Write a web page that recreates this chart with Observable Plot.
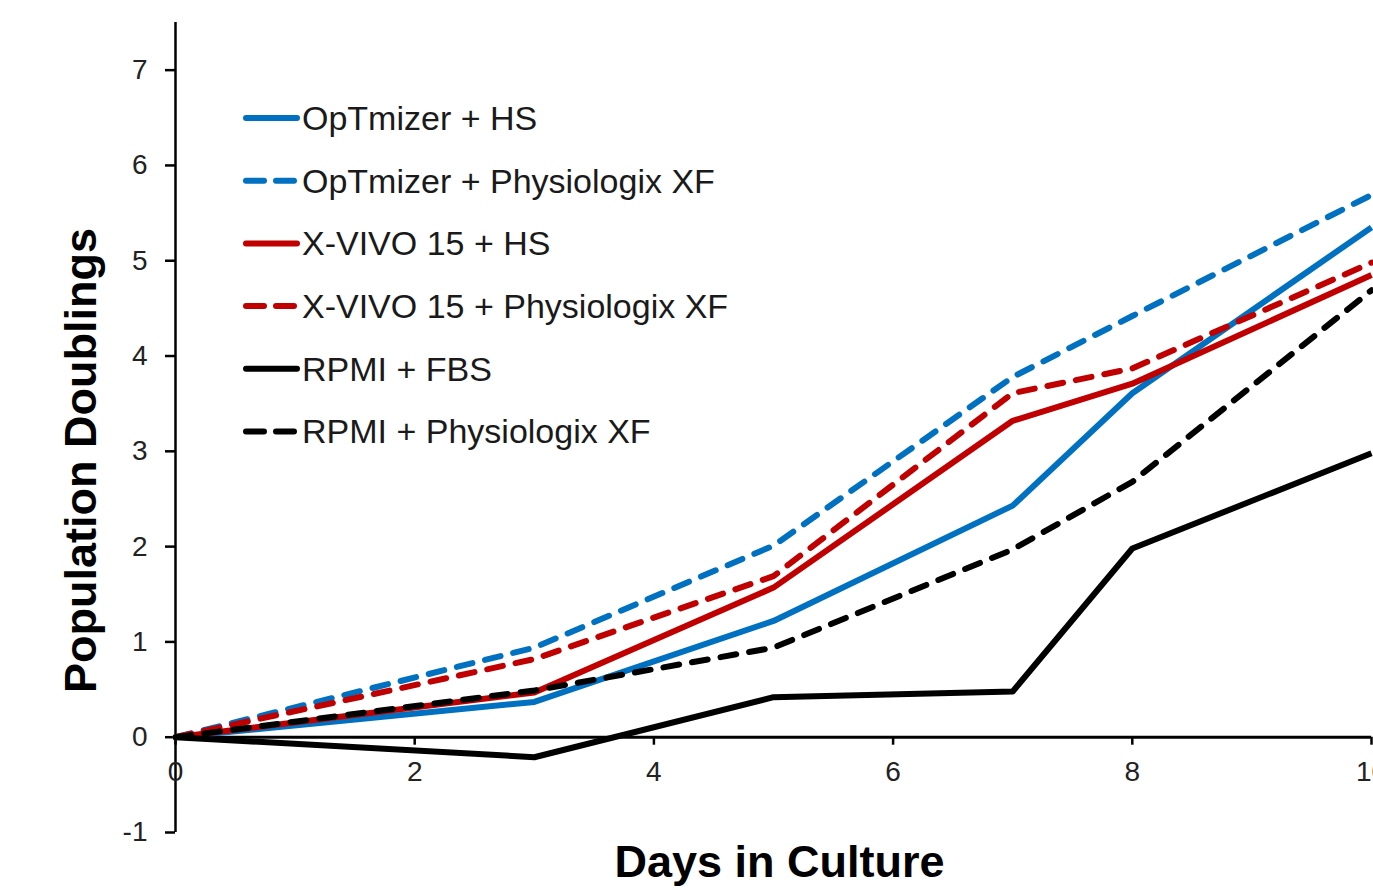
<!DOCTYPE html>
<html>
<head>
<meta charset="utf-8">
<script src="https://cdn.jsdelivr.net/npm/d3@7"></script>
<script src="https://cdn.jsdelivr.net/npm/@observablehq/plot@0.6"></script>
<style>
  html, body { margin: 0; padding: 0; background: #fff; overflow: hidden; }
  #wrap { position: relative; width: 1400px; height: 890px; font-family: "Liberation Sans", Arial, sans-serif; }
  #legend { position: absolute; left: 0; top: 0; pointer-events: none; }
</style>
</head>
<body>
<div id="wrap"></div>
<script>
// ---- data ----
const days = [0, 3, 5, 7, 8, 10];
const seriesNames = [
  "OpTmizer + HS",
  "OpTmizer + Physiologix XF",
  "X-VIVO 15 + HS",
  "X-VIVO 15 + Physiologix XF",
  "RPMI + FBS",
  "RPMI + Physiologix XF"
];
const optHS    = [0, 0.37, 1.22, 2.43, 3.61, 5.35];
const optXF    = [0, 0.94, 2.01, 3.78, 4.42, 5.69];
const xvivoHS  = [0, 0.47, 1.57, 3.32, 3.71, 4.85];
const xvivoXF  = [0, 0.82, 1.69, 3.61, 3.87, 4.98];
const rpmiFBS  = [0, -0.21, 0.42, 0.48, 1.98, 2.98];
const rpmiXF   = [0, 0.49, 0.94, 1.97, 2.68, 4.69];
const seriesValues = [optHS, optXF, xvivoHS, xvivoXF, rpmiFBS, rpmiXF];
const xTicks = [0, 2, 4, 6, 8, 10];
const yTicks = [-1, 0, 1, 2, 3, 4, 5, 6, 7];
const xLabel = "Days in Culture";
const yLabel = "Population Doublings";

// ---- styles ----
const seriesColors = ["#0070C0", "#0070C0", "#C00000", "#C00000", "#000000", "#000000"];
const seriesDashed = [false, true, false, true, false, true];

const rows = [];
seriesNames.forEach((name, s) => {
  days.forEach((d, i) => rows.push({series: name, day: d, value: seriesValues[s][i]}));
});

const W = 1400, H = 890;
const font = "'Liberation Sans', Arial, sans-serif";

const lineMarks = seriesNames.map((name, s) =>
  Plot.line(rows.filter(r => r.series === name), {
    x: "day", y: "value",
    stroke: seriesColors[s],
    strokeWidth: 6,
    strokeDasharray: seriesDashed[s] ? "16,13" : null,
    strokeLinecap: seriesDashed[s] ? "round" : "butt",
    strokeLinejoin: "round"
  })
);

const chart = Plot.plot({
  width: W, height: H,
  marginLeft: 175, marginRight: 29, marginTop: 22, marginBottom: 58,
  style: {fontFamily: font, background: "white", overflow: "visible"},
  x: {domain: [0, 10], axis: null},
  y: {domain: [-1, 7.5], axis: null},
  marks: [
    Plot.ruleX([0], {stroke: "black", strokeWidth: 2.5}),
    Plot.axisY(yTicks, {anchor: "left", tickSize: 10, tickPadding: 18, fontSize: 28, color: "#222", stroke: "black", strokeWidth: 2.5, label: null, tickFormat: d => d}),
    Plot.ruleY([0], {stroke: "black", strokeWidth: 3}),
    Plot.ruleX(xTicks, {x: d => d, y1: 0, y2: 0, insetBottom: -8, stroke: "black", strokeWidth: 2.5}),
    Plot.text(xTicks, {x: d => d, y: 0, dy: 35, text: d => String(d), fontSize: 28, fill: "#222"}),
    ...lineMarks,
    Plot.text([yLabel], {frameAnchor: "left", textAnchor: "middle", lineAnchor: "middle", rotate: -90, dx: -94, dy: 33, fontSize: 45, fontWeight: "bold", fill: "black"}),
    Plot.text([xLabel], {frameAnchor: "bottom", textAnchor: "middle", lineAnchor: "middle", dx: 6, dy: 30, fontSize: 45, fontWeight: "bold", fill: "black"})
  ]
});

const wrap = document.getElementById("wrap");
wrap.appendChild(chart);

// ---- legend overlay ----
const leg = d3.select(wrap).append("svg")
  .attr("id", "legend")
  .attr("width", W).attr("height", H);
const legX0 = 246, legX1 = 297, legTextX = 302, legY0 = 118, legStep = 62.7;
seriesNames.forEach((name, s) => {
  const y = legY0 + s * legStep;
  leg.append("line")
    .attr("x1", legX0).attr("x2", legX1)
    .attr("y1", y).attr("y2", y)
    .attr("stroke", seriesColors[s])
    .attr("stroke-width", 6)
    .attr("stroke-linecap", "round")
    .attr("stroke-dasharray", seriesDashed[s] ? "18,12" : null);
  leg.append("text")
    .attr("x", legTextX).attr("y", y)
    .attr("dy", "0.35em")
    .attr("font-family", font)
    .attr("font-size", 34)
    .attr("fill", "#1a1a1a")
    .text(name);
});
</script>
</body>
</html>
